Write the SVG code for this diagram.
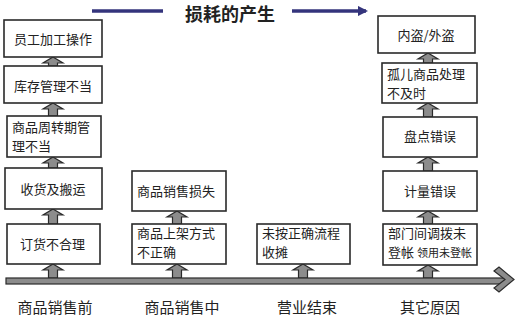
<svg xmlns="http://www.w3.org/2000/svg" width="522" height="321" viewBox="0 0 522 321">
<style>
.box{fill:#fff;stroke:#2a2a2a;stroke-width:1.6}
.t{font-family:"Noto Sans CJK SC","Noto Sans",sans-serif;font-size:13px;fill:#222}
.c{text-anchor:middle}
.lab{font-family:"Noto Sans CJK SC","Noto Sans",sans-serif;font-size:15px;fill:#222;text-anchor:middle}
.ttl{font-family:"Noto Sans CJK SC","Noto Sans",sans-serif;font-size:18px;font-weight:bold;fill:#222;text-anchor:middle}
.up{fill:#8c8c8c;stroke:#2a2a2a;stroke-width:1.2;stroke-linejoin:miter}
.nav{stroke:#34347c;stroke-width:3.5;fill:none}
</style>
<defs>
<marker id="ah" viewBox="0 0 10 10" refX="8" refY="5" markerWidth="3" markerHeight="3" orient="auto" markerUnits="strokeWidth">
<path d="M0,0 L10,5 L0,10 z" fill="#34347c"/>
</marker>
</defs>
<g id="title">
<line class="nav" x1="92" y1="11" x2="163" y2="11"/>
<line class="nav" x1="292" y1="11" x2="366" y2="11" marker-end="url(#ah)"/>
<text class="ttl" x="230" y="21">损耗的产生</text>
</g>
<g id="connectors">
<polygon class="up" points="53,57 63,63 57.5,63 57.5,66 48.5,66 48.5,63 43,63"/>
<polygon class="up" points="53,103 63,109 57.5,109 57.5,116 48.5,116 48.5,109 43,109"/>
<polygon class="up" points="53,157 63,163 57.5,163 57.5,168 48.5,168 48.5,163 43,163"/>
<polygon class="up" points="53,209 63,215 57.5,215 57.5,224 48.5,224 48.5,215 43,215"/>
<polygon class="up" points="53,264 63,270 57.5,270 57.5,278 48.5,278 48.5,270 43,270"/>
<polygon class="up" points="177,211 187,217 181.5,217 181.5,224 172.5,224 172.5,217 167,217"/>
<polygon class="up" points="177,264 187,270 181.5,270 181.5,278 172.5,278 172.5,270 167,270"/>
<polygon class="up" points="303,264 313,270 307.5,270 307.5,278 298.5,278 298.5,270 293,270"/>
<polygon class="up" points="428,53 438,59 432.5,59 432.5,63 423.5,63 423.5,59 418,59"/>
<polygon class="up" points="428,103 438,109 432.5,109 432.5,117 423.5,117 423.5,109 418,109"/>
<polygon class="up" points="428,157 438,163 432.5,163 432.5,171 423.5,171 423.5,163 418,163"/>
<polygon class="up" points="428,211 438,217 432.5,217 432.5,224 423.5,224 423.5,217 418,217"/>
<polygon class="up" points="428,265 438,271 432.5,271 432.5,278 423.5,278 423.5,271 418,271"/>
</g>
<g id="timeline">
<rect x="6" y="278" width="500" height="6" fill="#8c8c8c" stroke="#2a2a2a" stroke-width="1.2"/>
<polygon points="494,271 499,267 514,279.5 499,292 494,288 505,279.5" fill="#8c8c8c" stroke="#2a2a2a" stroke-width="1.2"/>
</g>
<g id="n1"><rect class="box" x="4" y="20" width="98" height="37"/><text class="t c" x="53" y="43.5">员工加工操作</text></g>
<g id="n2"><rect class="box" x="4" y="66" width="98" height="37"/><text class="t c" x="53" y="90.5">库存管理不当</text></g>
<g id="n3"><rect class="box" x="7" y="116" width="94" height="41"/><text class="t" x="12" y="131.5">商品周转期管<tspan x="12" dy="19">理不当</tspan></text></g>
<g id="n4"><rect class="box" x="5" y="168" width="97" height="41"/><text class="t c" x="53" y="193.5">收货及搬运</text></g>
<g id="n5"><rect class="box" x="7" y="224" width="93" height="40"/><text class="t" x="20" y="248.5">订货不合理</text></g>
<g id="m1"><rect class="box" x="132" y="171" width="94" height="40"/><text class="t" x="137" y="195.5">商品销售损失</text></g>
<g id="m2"><rect class="box" x="132" y="224" width="94" height="40"/><text class="t" x="137" y="238">商品上架方式<tspan x="137" dy="19">不正确</tspan></text></g>
<g id="e1"><rect class="box" x="257" y="224" width="93" height="40"/><text class="t" x="262" y="238">未按正确流程<tspan x="262" dy="19">收摊</tspan></text></g>
<g id="r1"><rect class="box" x="378" y="16" width="97" height="37"/><text class="t c" x="426" y="39.5">内盗/外盗</text></g>
<g id="r2"><rect class="box" x="382" y="63" width="95" height="40"/><text class="t" x="387" y="78.5">孤儿商品处理<tspan x="387" dy="19">不及时</tspan></text></g>
<g id="r3"><rect class="box" x="383" y="117" width="94" height="40"/><text class="t c" x="430" y="141">盘点错误</text></g>
<g id="r4"><rect class="box" x="383" y="171" width="94" height="40"/><text class="t c" x="430" y="195.5">计量错误</text></g>
<g id="r5"><rect class="box" x="383" y="224" width="94" height="41"/><text class="t" x="388" y="238">部门间调拨未<tspan x="388" dy="19">登帐 </tspan><tspan font-size="11px">领用未登帐</tspan></text></g>
<g id="labels">
<text class="lab" x="55" y="313">商品销售前</text>
<text class="lab" x="182" y="313">商品销售中</text>
<text class="lab" x="307" y="313">营业结束</text>
<text class="lab" x="430" y="313">其它原因</text>
</g>
</svg>
